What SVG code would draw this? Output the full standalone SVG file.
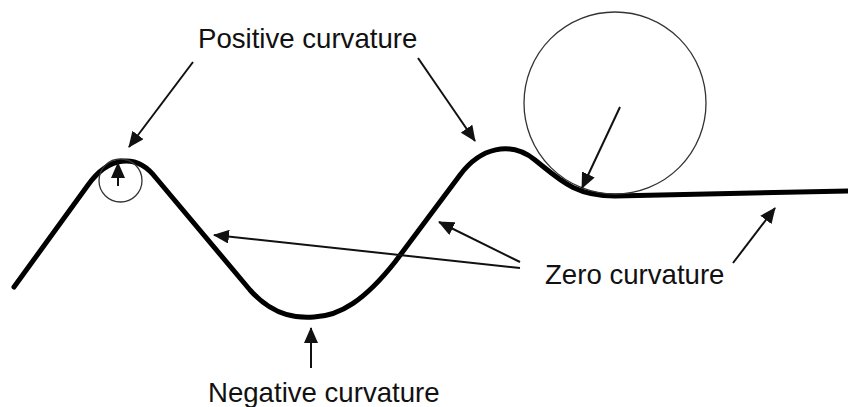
<svg xmlns="http://www.w3.org/2000/svg" width="848" height="407" viewBox="0 0 848 407">
<defs>
<style>
.lbl{font-family:"Liberation Sans",Arial,sans-serif;font-size:27.6px;fill:#111}
.arr{stroke:#111;stroke-width:2;fill:none;marker-end:url(#ah)}
.circ{stroke:#333;stroke-width:1.3;fill:none}
</style>
<marker id="ah" markerWidth="8" markerHeight="7" refX="7.5" refY="3.5" orient="auto" markerUnits="strokeWidth">
<path d="M0,0 L8,3.5 L0,7 Z" fill="#111"/>
</marker>
</defs>
<rect width="848" height="407" fill="#fff"/>
<g id="curve">
<path d="M14,287 L88,185 C108,157 136,152 156,178 L250,290 C275,318 300,318 314,317 C340,316 365,300 395,262 L460,175 C480,148 510,140 535,160 C560,180 575,196 615,196 L848,191" fill="none" stroke="#000" stroke-width="5" stroke-linejoin="round" stroke-linecap="round"/>
</g>
<g id="small-circle">
<circle class="circ" cx="120.5" cy="180.5" r="21.5"/>
</g>
<g id="big-circle">
<circle class="circ" cx="615" cy="103" r="91"/>
</g>
<g id="connectors">
<line class="arr" x1="118" y1="186" x2="118" y2="163"/>
<line class="arr" x1="620" y1="107" x2="582" y2="188"/>
<line class="arr" x1="193" y1="62" x2="129" y2="147"/>
<line class="arr" x1="418" y1="58" x2="475" y2="141"/>
<line class="arr" x1="520" y1="268" x2="214" y2="235"/>
<line class="arr" x1="520" y1="262" x2="439" y2="222"/>
<line class="arr" x1="733" y1="263" x2="775" y2="208"/>
<line class="arr" x1="311" y1="368" x2="311" y2="328"/>
</g>
<g id="label-positive"><text class="lbl" x="198" y="48">Positive curvature</text></g>
<g id="label-zero"><text class="lbl" x="545" y="284">Zero curvature</text></g>
<g id="label-negative"><text class="lbl" x="208" y="402">Negative curvature</text></g>
</svg>
